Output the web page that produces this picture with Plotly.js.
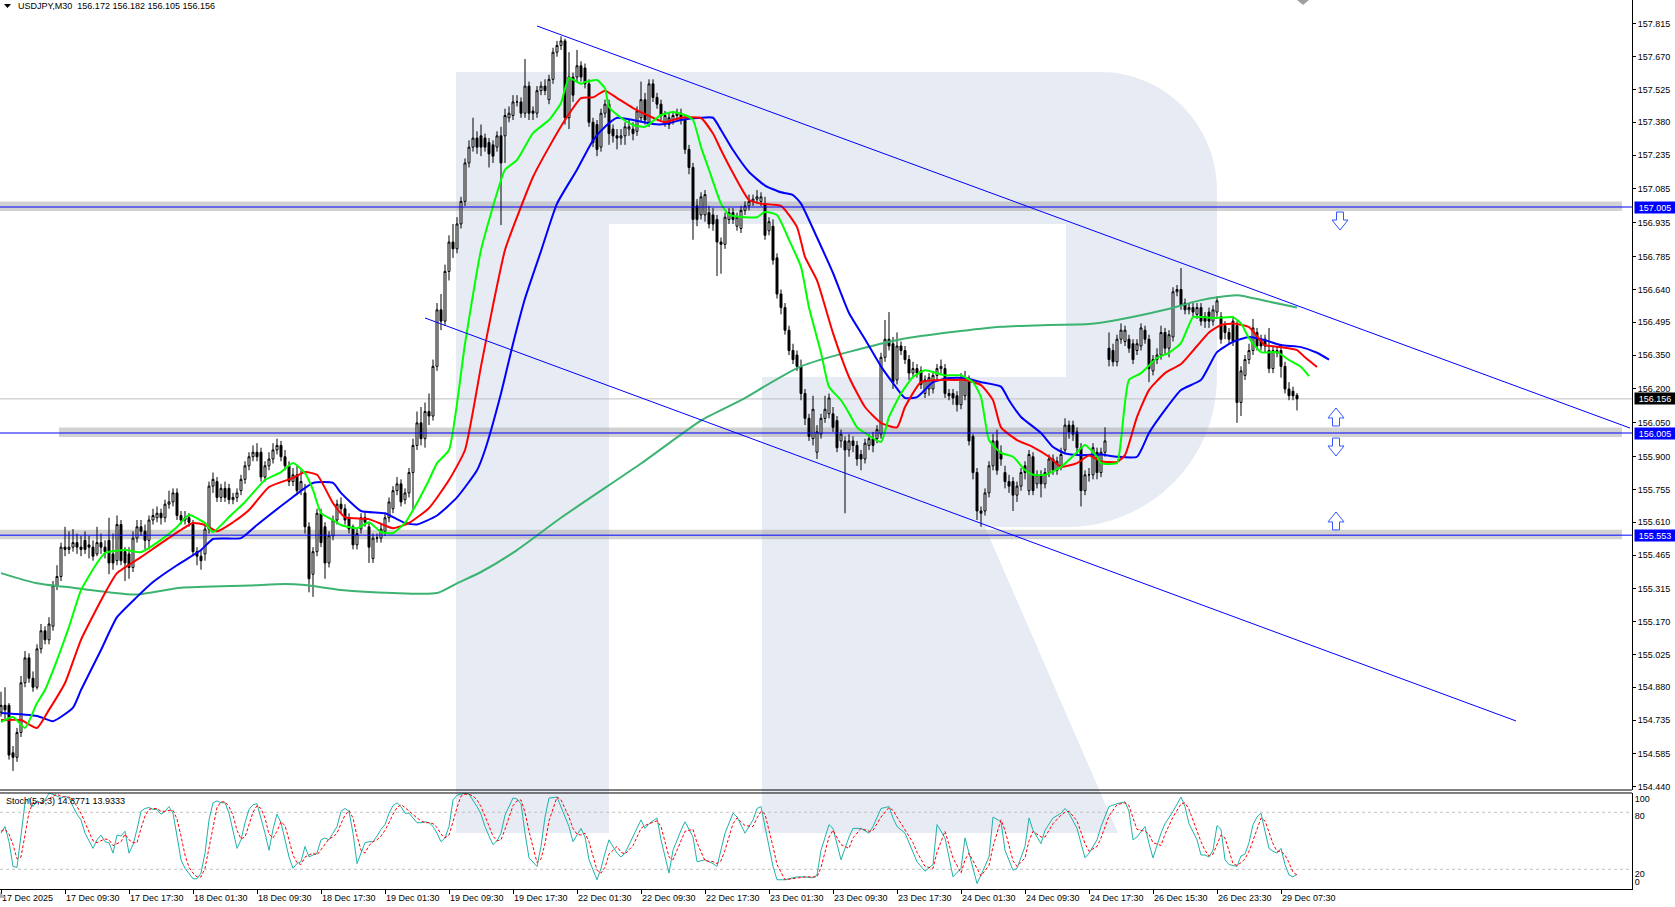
<!DOCTYPE html>
<html><head><meta charset="utf-8">
<script src="https://cdn.plot.ly/plotly-3.0.1.min.js"></script>
<style>html,body{margin:0;padding:0;background:#fff;}#chart{width:1675px;height:907px;}</style>
</head><body><div id="chart"></div>
<script>
const symbolName = "USDJPY,M30";

const candleOpen = [
154.77,154.80,154.80,154.59,154.57,154.68,154.90,155.01,154.92,154.88,
155.05,155.13,155.09,155.15,155.33,155.37,155.50,155.49,155.50,155.52,
155.50,155.53,155.51,155.50,155.47,155.52,155.50,155.53,155.47,155.44,
155.60,155.48,155.47,155.41,155.54,155.59,155.57,155.53,155.62,155.63,
155.65,155.63,155.69,155.70,155.74,155.64,155.62,155.63,155.60,155.48,
155.46,155.47,155.58,155.77,155.79,155.72,155.76,155.76,155.71,155.72,
155.75,155.80,155.86,155.90,155.92,155.92,155.81,155.86,155.89,155.93,
155.95,155.90,155.86,155.79,155.82,155.75,155.74,155.59,155.38,155.48,
155.65,155.59,155.43,155.55,155.62,155.69,155.67,155.63,155.59,155.51,
155.58,155.63,155.59,155.45,155.54,155.54,155.57,155.63,155.67,155.75,
155.78,155.71,155.74,155.83,155.95,156.05,155.98,156.10,156.08,156.30,
156.55,156.50,156.72,156.85,156.82,156.93,157.03,157.20,157.27,157.31,
157.32,157.31,157.29,157.28,157.27,157.32,157.32,157.40,157.41,157.47,
157.47,157.42,157.54,157.43,157.42,157.52,157.54,157.48,157.57,157.69,
157.72,157.74,157.40,157.58,157.58,157.63,157.62,157.55,157.38,157.37,
157.27,157.42,157.46,157.35,157.32,157.31,157.32,157.35,157.35,157.34,
157.40,157.48,157.38,157.55,157.49,157.46,157.38,157.37,157.39,157.41,
157.42,157.39,157.26,157.18,157.01,156.97,156.97,156.98,156.97,156.95,
156.85,156.84,156.95,156.98,156.92,156.91,156.99,157.01,157.03,157.04,
157.03,157.02,156.90,156.92,156.78,156.62,156.56,156.46,156.37,156.35,
156.30,156.18,156.07,155.98,155.92,156.00,156.07,156.09,156.09,156.06,
155.97,155.97,155.93,155.97,155.95,155.91,155.89,155.95,155.98,155.98,
156.00,156.34,156.42,156.40,156.24,156.39,156.37,156.33,156.27,156.29,
156.28,156.18,156.20,156.20,156.26,156.29,156.29,156.18,156.18,156.17,
156.13,156.17,156.24,155.99,155.83,155.66,155.66,155.74,155.86,155.97,
155.92,155.83,155.79,155.79,155.73,155.77,155.86,155.75,155.90,155.78,
155.82,155.78,155.83,155.89,155.84,155.86,155.93,156.04,156.04,156.01,
155.94,155.75,155.82,155.82,155.92,155.83,155.92,156.38,156.37,156.32,
156.42,156.41,156.42,156.40,156.37,156.39,156.46,156.42,156.28,156.33,
156.35,156.45,156.38,156.43,156.63,156.64,156.58,156.55,156.56,156.53,
156.56,156.52,156.54,156.50,156.54,156.52,156.48,156.45,156.50,156.48,
156.14,156.26,156.33,156.37,156.45,156.42,156.42,156.37,156.29,156.36,
156.37,156.30,156.20,156.19,156.172];

const candleHigh = [
154.86,154.88,154.81,154.62,154.70,154.93,155.04,155.03,154.95,155.07,
155.16,155.15,155.19,155.35,155.42,155.52,155.59,155.57,155.58,155.56,
155.55,155.57,155.55,155.53,155.59,155.56,155.53,155.63,155.56,155.64,
155.62,155.50,155.50,155.57,155.62,155.62,155.60,155.64,155.67,155.68,
155.67,155.71,155.75,155.76,155.76,155.66,155.66,155.65,155.62,155.50,
155.49,155.60,155.79,155.83,155.81,155.78,155.79,155.78,155.74,155.76,
155.82,155.88,155.92,155.95,155.96,155.94,155.88,155.92,155.96,155.98,
155.97,155.93,155.88,155.85,155.86,155.84,155.78,155.61,155.50,155.67,
155.67,155.61,155.57,155.64,155.71,155.72,155.69,155.65,155.60,155.58,
155.65,155.66,155.61,155.56,155.56,155.60,155.65,155.72,155.77,155.81,
155.80,155.76,155.85,155.98,156.10,156.12,156.14,156.18,156.33,156.58,
156.62,156.75,156.88,156.93,156.96,157.05,157.22,157.30,157.40,157.34,
157.37,157.33,157.31,157.30,157.34,157.36,157.44,157.45,157.50,157.50,
157.49,157.66,157.56,157.45,157.54,157.56,157.57,157.59,157.71,157.74,
157.76,157.75,157.69,157.60,157.70,157.65,157.64,157.57,157.40,157.39,
157.44,157.48,157.48,157.37,157.35,157.35,157.38,157.39,157.38,157.45,
157.56,157.51,157.57,157.57,157.51,157.48,157.43,157.42,157.43,157.44,
157.44,157.41,157.28,157.20,157.04,157.07,157.08,157.01,157.00,156.97,
156.87,156.98,157.00,157.00,156.98,157.01,157.03,157.06,157.06,157.08,
157.07,157.05,156.96,156.95,156.80,156.64,156.58,156.48,156.40,156.37,
156.33,156.20,156.09,156.17,156.04,156.09,156.17,156.18,156.12,156.08,
156.02,155.99,156.00,155.99,155.97,155.93,155.98,156.00,156.01,156.04,
156.36,156.505,156.54,156.43,156.45,156.41,156.39,156.35,156.32,156.31,
156.30,156.26,156.27,156.28,156.31,156.33,156.31,156.20,156.20,156.19,
156.27,156.28,156.26,156.00,155.85,155.68,155.76,155.88,156.00,156.02,
155.95,155.86,155.82,155.81,155.79,155.85,155.88,155.93,155.92,155.84,
155.84,155.85,155.91,155.91,155.90,155.94,156.07,156.06,156.06,156.03,
155.96,155.84,155.85,155.96,155.94,155.94,156.03,156.45,156.40,156.44,
156.49,156.48,156.44,156.42,156.42,156.49,156.48,156.44,156.35,156.38,
156.48,156.47,156.46,156.65,156.66,156.735,156.60,156.58,156.58,156.58,
156.58,156.54,156.56,156.57,156.61,156.54,156.50,156.47,156.52,156.50,
156.30,156.35,156.40,156.51,156.47,156.44,156.44,156.47,156.39,156.39,
156.39,156.32,156.23,156.21,156.182];

const candleLow = [
154.75,154.74,154.56,154.51,154.55,154.66,154.88,154.90,154.86,154.87,
155.03,155.07,155.07,155.13,155.31,155.35,155.46,155.47,155.48,155.47,
155.46,155.47,155.45,155.44,155.46,155.47,155.45,155.38,155.40,155.42,
155.42,155.35,155.36,155.39,155.52,155.55,155.49,155.49,155.60,155.61,
155.60,155.61,155.67,155.68,155.62,155.60,155.60,155.59,155.46,155.42,
155.40,155.44,155.56,155.74,155.70,155.70,155.70,155.69,155.69,155.70,
155.73,155.78,155.84,155.88,155.88,155.79,155.79,155.84,155.87,155.91,
155.88,155.84,155.77,155.77,155.73,155.73,155.56,155.30,155.28,155.46,
155.50,155.36,155.41,155.53,155.60,155.65,155.60,155.56,155.49,155.49,
155.56,155.59,155.43,155.43,155.52,155.52,155.55,155.61,155.65,155.73,
155.68,155.69,155.72,155.66,155.93,155.95,155.94,156.04,156.06,156.28,
156.46,156.48,156.68,156.78,156.80,156.91,157.01,157.18,157.25,157.24,
157.23,157.25,157.18,157.20,157.25,156.925,157.20,157.38,157.39,157.45,
157.40,157.40,157.39,157.39,157.40,157.50,157.50,157.46,157.55,157.67,
157.70,157.37,157.35,157.47,157.56,157.56,157.53,157.36,157.27,157.23,
157.25,157.40,157.28,157.29,157.26,157.28,157.28,157.32,157.30,157.32,
157.38,157.37,157.36,157.47,157.44,157.39,157.36,157.35,157.37,157.39,
157.37,157.24,157.15,156.86,156.92,156.95,156.94,156.91,156.90,156.70,
156.71,156.82,156.93,156.93,156.90,156.89,156.97,156.99,157.01,157.02,
157.01,156.86,156.88,156.75,156.60,156.53,156.44,156.35,156.31,156.28,
156.15,156.04,155.97,155.95,155.89,155.98,156.05,156.07,156.01,155.92,
155.94,155.65,155.90,155.92,155.86,155.84,155.87,155.93,155.92,155.96,
155.98,156.32,156.37,156.20,156.22,156.35,156.31,156.24,156.25,156.25,
156.20,156.16,156.17,156.18,156.24,156.27,156.16,156.15,156.13,156.10,
156.11,156.15,155.95,155.80,155.62,155.59,155.64,155.72,155.84,155.82,
155.86,155.76,155.74,155.66,155.70,155.75,155.80,155.73,155.73,155.76,
155.72,155.76,155.81,155.82,155.82,155.84,155.91,155.98,155.97,155.91,
155.68,155.73,155.79,155.80,155.80,155.81,155.90,156.30,156.30,156.30,
156.40,156.39,156.36,156.31,156.35,156.37,156.40,156.23,156.26,156.31,
156.33,156.35,156.34,156.41,156.61,156.55,156.53,156.53,156.52,156.51,
156.48,156.47,156.47,156.48,156.52,156.40,156.42,156.40,156.39,156.05,
156.08,156.24,156.31,156.35,156.37,156.37,156.36,156.27,156.27,156.34,
156.25,156.18,156.15,156.15,156.105];

const candleClose = [
154.80,154.78,154.58,154.57,154.68,154.90,155.01,154.92,154.88,155.05,
155.13,155.09,155.16,155.33,155.37,155.50,155.49,155.50,155.52,155.50,
155.49,155.49,155.50,155.46,155.52,155.50,155.48,155.43,155.43,155.60,
155.44,155.43,155.41,155.54,155.59,155.57,155.53,155.62,155.64,155.65,
155.63,155.69,155.70,155.74,155.64,155.62,155.63,155.61,155.48,155.46,
155.44,155.58,155.77,155.80,155.72,155.76,155.72,155.71,155.72,155.74,
155.80,155.86,155.90,155.92,155.90,155.81,155.86,155.89,155.93,155.95,
155.90,155.86,155.79,155.82,155.75,155.79,155.59,155.36,155.48,155.65,
155.52,155.43,155.55,155.62,155.69,155.67,155.62,155.58,155.51,155.56,
155.63,155.61,155.50,155.54,155.54,155.58,155.63,155.70,155.75,155.78,
155.70,155.74,155.83,155.95,156.05,155.98,156.10,156.08,156.30,156.55,
156.50,156.72,156.85,156.82,156.93,157.03,157.20,157.27,157.31,157.27,
157.27,157.27,157.24,157.23,157.32,157.20,157.41,157.42,157.47,157.47,
157.42,157.54,157.42,157.42,157.52,157.54,157.52,157.57,157.69,157.72,
157.74,157.40,157.58,157.50,157.63,157.58,157.55,157.38,157.29,157.26,
157.42,157.46,157.33,157.32,157.31,157.32,157.36,157.36,157.33,157.43,
157.48,157.39,157.55,157.49,157.46,157.41,157.41,157.40,157.41,157.42,
157.39,157.26,157.18,156.95,156.95,157.05,157.06,156.93,156.93,156.85,
156.84,156.96,156.98,156.95,156.96,156.99,157.01,157.03,157.04,157.05,
157.05,156.88,156.94,156.77,156.62,156.56,156.46,156.37,156.33,156.30,
156.18,156.07,155.99,156.11,156.01,156.07,156.11,156.16,156.03,155.94,
156.00,155.93,155.97,155.95,155.89,155.89,155.96,155.98,155.95,156.02,
156.34,156.42,156.39,156.23,156.39,156.37,156.33,156.27,156.29,156.27,
156.22,156.24,156.25,156.26,156.29,156.30,156.18,156.17,156.16,156.13,
156.25,156.25,155.97,155.83,155.66,155.65,155.74,155.86,155.97,155.84,
155.89,155.79,155.77,155.73,155.77,155.83,155.83,155.91,155.75,155.82,
155.78,155.83,155.89,155.84,155.88,155.91,156.04,156.01,156.00,155.94,
155.75,155.82,155.82,155.94,155.83,155.92,155.97,156.33,156.32,156.42,
156.46,156.46,156.38,156.33,156.40,156.47,156.42,156.29,156.33,156.35,
156.45,156.38,156.44,156.63,156.64,156.57,156.55,156.56,156.54,156.56,
156.50,156.50,156.50,156.55,156.59,156.42,156.45,156.42,156.41,156.14,
156.28,156.33,156.37,156.47,156.39,156.39,156.39,156.29,156.37,156.37,
156.30,156.20,156.17,156.17,156.156];

// Alligator (jaw blue, teeth red, lips green) and long moving average, read at bar indices
const jawIdx = [0,9,13,18,20,25,29,34,38,44,50,53,60,64,71,78,83,85,90,96,101,104,109,114,119,121,125,128,131,135,139,144,148,151,154,158,163,166,170,175,178,180,183,187,191,195,198,200,204,208,212,216,220,223,226,229,233,237,241,245,250,252,255,260,263,266,270,275,279,284,287,291,295,300,304,308,312,316,320,325,329,332];
const jawVal = [154.766,154.753,154.73,154.79,154.868,155.045,155.19,155.28,155.346,155.42,155.487,155.536,155.54,155.598,155.695,155.784,155.784,155.74,155.66,155.65,155.607,155.60,155.64,155.72,155.84,155.93,156.18,156.40,156.60,156.81,157.02,157.17,157.30,157.36,157.40,157.39,157.372,157.372,157.39,157.40,157.40,157.346,157.257,157.16,157.10,157.07,157.058,157.02,156.87,156.713,156.536,156.42,156.30,156.226,156.16,156.164,156.23,156.248,156.248,156.23,156.21,156.15,156.076,156.005,155.943,155.915,155.907,155.91,155.90,155.90,156.005,156.107,156.195,156.24,156.363,156.408,156.43,156.416,156.394,156.385,156.36,156.33];

const teethIdx = [0,5,9,12,16,20,26,29,35,43,48,51,54,58,62,67,73,76,79,83,86,92,98,102,107,112,116,120,123,126,129,133,137,141,145,148,151,154,158,163,166,170,175,178,180,183,187,190,195,199,201,204,208,212,216,220,224,226,230,235,239,241,245,248,250,254,258,262,265,269,272,275,279,281,284,287,291,295,299,302,305,308,312,316,320,324,326,329];
const teethVal = [154.735,154.735,154.70,154.78,154.899,155.09,155.297,155.385,155.456,155.553,155.607,155.598,155.57,155.61,155.664,155.766,155.806,155.832,155.82,155.695,155.633,155.624,155.584,155.607,155.673,155.797,155.93,156.30,156.57,156.815,156.96,157.138,157.27,157.39,157.487,157.49,157.52,157.487,157.443,157.40,157.38,157.40,157.398,157.33,157.257,157.155,157.036,157.02,157.01,156.916,156.784,156.68,156.447,156.253,156.12,156.05,156.03,156.12,156.23,156.24,156.24,156.24,156.217,156.15,156.03,155.974,155.943,155.90,155.855,155.872,155.905,155.88,155.877,155.907,156.076,156.195,156.27,156.31,156.39,156.45,156.483,156.49,156.474,156.394,156.385,156.372,156.34,156.297];

const lipsIdx = [0,3,6,9,11,14,17,20,24,26,31,35,40,44,47,51,53,57,61,66,70,73,76,78,80,83,85,89,92,95,98,101,104,107,109,112,116,120,124,126,129,133,137,140,142,145,146,149,151,152,155,158,161,165,168,171,173,175,177,180,182,186,189,191,194,197,200,202,205,207,210,212,214,216,220,222,225,228,231,236,240,243,245,247,250,253,256,258,261,265,269,271,274,275,279,280,282,285,289,292,295,298,300,304,308,310,312,315,319,322,325,327];
const lipsVal = [154.726,154.748,154.70,154.81,154.868,155.0,155.147,155.31,155.43,155.474,155.487,155.478,155.532,155.589,155.642,155.607,155.567,155.633,155.70,155.797,155.832,155.872,155.828,155.753,155.651,155.62,155.598,155.584,155.61,155.567,155.562,155.607,155.695,155.797,155.872,155.93,156.40,156.815,157.067,157.17,157.213,157.332,157.39,157.465,157.576,157.55,157.558,157.567,157.53,157.447,157.40,157.368,157.36,157.412,157.425,157.412,157.39,157.27,157.17,157.02,156.97,156.96,156.96,156.983,156.97,156.86,156.74,156.56,156.36,156.21,156.15,156.093,156.03,156.005,155.965,156.076,156.18,156.253,156.283,156.26,156.26,156.23,156.164,155.974,155.917,155.90,155.841,155.82,155.82,155.855,155.92,155.952,155.90,155.872,155.872,155.974,156.24,156.27,156.337,156.36,156.403,156.518,156.518,156.514,156.518,156.49,156.425,156.363,156.363,156.328,156.297,156.257];

const maIdx = [0,9,18,27,34,45,62,71,76,85,98,109,114,120,129,140,160,175,185,200,225,250,262,272,279,291,300,309,316,324];
const maVal = [155.385,155.34,155.32,155.30,155.29,155.32,155.33,155.337,155.332,155.31,155.297,155.297,155.34,155.39,155.487,155.63,155.87,156.06,156.15,156.30,156.42,156.475,156.483,156.487,156.505,156.55,156.593,156.615,156.59,156.56];

// Stochastic (5,3,3): main (%K) and signal (%D), read at bar indices
const stochIdx = [
0,1,2,3,4,5,6,7,8,9,10,11,12,13,14,15,16,17,18,19,20,21,22,23,24,25,26,27,28,29,
30,31,32,33,34,35,36,37,38,39,40,41,42,43,44,45,46,47,48,49,50,51,52,53,54,55,56,57,58,59,
60,61,62,63,64,65,66,67,68,69,70,71,72,73,74,75,76,77,78,79,80,81,82,83,84,85,86,87,88,89,
90,91,92,93,94,95,96,97,98,99,100,101,102,103,104,105,106,107,108,109,110,111,112,113,114,115,116,117,118,119,
120,121,122,123,124,
125,126,128,129,130,131,132,134,135,136,137,139,140,142,143,144,145,146,147,149,150,
151,152,154,155,156,158,160,161,162,164,165,167,168,170,171,173,174,176,178,179,180,181,183,184,186,188,189,190,191,193,194,196,198,199,201,203,204,205,207,208,210,212,213,215,217,218,220,222,223,224,226,228,229,231,233,234,236,238,240,241,242,244,245,247,248,250,251,253,254,256,257,258,260,261,263,265,266,267,269,271,272,274,275,277,279,281,282,283,284,286,287,288,290,291,293,295,296,297,299,300,
301,302,303,304,305,306,307,308,309,310,311,312,313,314,315,316,317,318,319,320,321,322,323,324];
const stochMain = [
58,65,49,23,22,55,90,95,86,92,90,93,100,99,97,95,97,95,86,78,72,58,50,42,51,56,49,48,37,56,
55,60,37,46,62,81,84,85,83,83,78,81,86,79,55,30,21,16,10,10,16,37,72,90,92,90,90,79,62,42,
51,69,83,88,89,74,58,40,62,78,69,51,33,21,26,28,44,33,35,37,51,53,51,58,65,81,84,81,58,26,
37,48,49,49,55,62,67,79,87,90,86,79,79,74,69,69,70,69,65,58,49,53,65,93,98,99,100,99,93,86,
78,65,55,46,50,
58,77,95,94,89,58,32,23,44,75,95,96,86,65,49,56,63,54,30,9,21,
37,51,37,33,37,54,72,63,68,74,51,16,40,61,70,54,28,30,26,23,39,58,79,75,58,72,84,86,65,23,9,9,11,12,12,11,14,40,67,63,30,54,63,63,58,65,84,86,74,65,58,39,28,18,25,67,53,12,21,53,37,5,14,33,75,70,40,19,21,44,74,61,47,61,74,79,84,79,63,32,37,51,65,86,89,91,81,51,54,65,47,32,58,68,81,96,86,68,51,35,
35,33,40,66,62,30,25,24,23,34,36,48,67,75,79,60,42,39,37,42,25,14,12,14.8771];
const stochSignal = [
60,62,57,46,31,33,56,80,90,91,89,92,94,97,99,97,96,96,93,86,79,69,60,50,48,50,52,51,45,47,
49,57,51,48,48,63,76,83,84,84,81,81,82,82,73,55,35,22,16,12,12,21,42,66,85,91,91,86,77,61,
52,54,68,80,87,84,74,57,53,60,70,66,51,35,27,25,33,35,37,35,41,47,52,54,58,68,77,82,74,55,
40,37,45,49,51,55,61,69,78,85,88,85,81,77,74,71,69,69,68,64,57,53,56,70,85,97,99,99,97,93,
86,76,66,55,50,
51,62,87,92,93,80,60,27,31,47,71,96,93,75,63,57,56,58,49,19,16,
22,36,44,38,36,45,63,66,68,71,65,33,30,50,60,62,48,29,28,26,29,40,68,74,66,65,74,81,78,44,25,9,10,11,12,12,12,22,54,61,46,42,53,63,60,61,75,85,82,75,62,48,38,23,21,38,60,32,16,30,37,21,13,24,44,72,61,29,23,32,50,60,54,54,68,77,80,81,71,47,39,44,53,76,88,90,87,74,62,60,57,48,45,57,75,89,90,83,60,49,
40,34,36,46,56,53,39,26,24,27,31,39,50,63,74,71,60,47,39,39,35,27,17,13.9333];
const stochLevels = [80, 20];

// Horizontal levels, channel lines and arrow marks
const levelPrices = [157.005, 156.005, 155.553];
const channelUpperIdx = [134, 407.25];
const channelUpperPrice = [157.806, 156.027];
const channelLowerIdx = [106, 378.75];
const channelLowerPrice = [156.514, 154.731];
const arrowIdx = [334.75, 333.75, 333.75, 333.75];
const arrowPrice = [156.943, 156.076, 155.943, 155.616];
const arrowDir = ['down', 'up', 'down', 'up'];

const priceTicks = [157.815,157.670,157.525,157.380,157.235,157.085,156.935,156.785,156.640,156.495,156.350,156.200,156.050,155.900,155.755,155.610,155.465,155.315,155.170,155.025,154.880,154.735,154.585,154.440];
const timeLabels = ['17 Dec 2025','17 Dec 09:30','17 Dec 17:30','18 Dec 01:30','18 Dec 09:30','18 Dec 17:30','19 Dec 01:30','19 Dec 09:30','19 Dec 17:30','22 Dec 01:30','22 Dec 09:30','22 Dec 17:30','23 Dec 01:30','23 Dec 09:30','23 Dec 17:30','24 Dec 01:30','24 Dec 09:30','24 Dec 17:30','26 Dec 15:30','26 Dec 23:30','29 Dec 07:30'];
const barsPerLabel = 16;

// ---------- drawing ----------
const FONT = 'Liberation Sans, Arial, sans-serif';
const PW = 1632, PH = 889;
function px(x){ return (x / PW).toFixed(5); }
function py(y){ return (1 - y / PH).toFixed(5); }

const n = candleClose.length;
const barIndex = candleClose.map((_, i) => i);
const labelBars = timeLabels.map((_, i) => i * barsPerLabel);

const traces = [
  {type:'candlestick', x:barIndex, open:candleOpen, high:candleHigh, low:candleLow, close:candleClose,
   xaxis:'x', yaxis:'y', hoverinfo:'skip',
   increasing:{line:{color:'#000000', width:1}, fillcolor:'#ffffff'},
   decreasing:{line:{color:'#000000', width:1}, fillcolor:'#000000'}},
  {type:'scatter', mode:'lines', x:maIdx, y:maVal, line:{color:'#3cb371', width:2, shape:'spline', smoothing:0.6}, hoverinfo:'skip'},
  {type:'scatter', mode:'lines', x:jawIdx, y:jawVal, line:{color:'#0000ff', width:2, shape:'spline', smoothing:0.5}, hoverinfo:'skip'},
  {type:'scatter', mode:'lines', x:teethIdx, y:teethVal, line:{color:'#ff0000', width:2, shape:'spline', smoothing:0.5}, hoverinfo:'skip'},
  {type:'scatter', mode:'lines', x:lipsIdx, y:lipsVal, line:{color:'#00ff00', width:2, shape:'spline', smoothing:0.5}, hoverinfo:'skip'},
  {type:'scatter', mode:'lines', x:stochIdx, y:stochMain, xaxis:'x', yaxis:'y2', line:{color:'#20b2aa', width:1}, hoverinfo:'skip'},
  {type:'scatter', mode:'lines', x:stochIdx, y:stochSignal, xaxis:'x', yaxis:'y2', line:{color:'#ff0000', width:1, dash:'3px,2px'}, hoverinfo:'skip'}
];

const shapes = [];
// watermark logo (background)
const wm = 'M'+px(456)+','+py(72)+' L'+px(1100)+','+py(72)+
  ' C'+px(1165)+','+py(72)+' '+px(1217)+','+py(125)+' '+px(1217)+','+py(190)+
  ' L'+px(1217)+','+py(377)+
  ' C'+px(1217)+','+py(460)+' '+px(1150)+','+py(527)+' '+px(1067)+','+py(527)+
  ' L'+px(985)+','+py(527)+' L'+px(1118)+','+py(833)+' L'+px(456)+','+py(833)+' Z';
shapes.push({type:'path', xref:'paper', yref:'paper', path:wm, fillcolor:'#e6ebf4', line:{width:0}, layer:'below'});
const wmCut = 'M'+px(609)+','+py(224)+' L'+px(1066)+','+py(224)+' L'+px(1066)+','+py(377)+
  ' L'+px(762)+','+py(377)+' L'+px(762)+','+py(833)+' L'+px(609)+','+py(833)+' Z';
shapes.push({type:'path', xref:'paper', yref:'paper', path:wmCut, fillcolor:'#ffffff', line:{width:0}, layer:'below'});

// gray bands behind levels
levelPrices.forEach((p, k) => {
  shapes.push({type:'rect', xref:'x', yref:'y', x0:(k === 1 ? 14.5 : -0.25), x1:405.25,
    ysizemode:'pixel', yanchor:p, y0:-4, y1:5.5,
    fillcolor:'rgba(165,165,165,0.5)', line:{width:0}, layer:'below'});
});
// current price line
shapes.push({type:'line', xref:'x', yref:'y', x0:-0.25, x1:407.75, y0:candleClose[n-1], y1:candleClose[n-1],
  line:{color:'#c0c0c0', width:1}, layer:'below'});
// levels
levelPrices.forEach(p => {
  shapes.push({type:'line', xref:'x', yref:'y', x0:-0.25, x1:407.75, y0:p, y1:p, line:{color:'#0000ff', width:1}});
});
// channel
shapes.push({type:'line', xref:'x', yref:'y', x0:channelUpperIdx[0], x1:channelUpperIdx[1], y0:channelUpperPrice[0], y1:channelUpperPrice[1], line:{color:'#0000ff', width:1}});
shapes.push({type:'line', xref:'x', yref:'y', x0:channelLowerIdx[0], x1:channelLowerIdx[1], y0:channelLowerPrice[0], y1:channelLowerPrice[1], line:{color:'#0000ff', width:1}});
// stochastic levels
stochLevels.forEach(v => {
  shapes.push({type:'line', xref:'x', yref:'y2', x0:-0.25, x1:407.75, y0:v, y1:v, line:{color:'#c0c0c0', width:1, dash:'3px,3px'}, layer:'below'});
});
// arrows
const downPath = 'M-3.5,9 L3.5,9 L3.5,1 L8,1 L0,-9 L-8,1 L-3.5,1 Z';
const upPath = 'M-3.5,-9 L3.5,-9 L3.5,-1 L8,-1 L0,9 L-8,-1 L-3.5,-1 Z';
arrowIdx.forEach((xi, k) => {
  shapes.push({type:'path', xref:'x', yref:'y', xsizemode:'pixel', ysizemode:'pixel',
    xanchor:xi, yanchor:arrowPrice[k], path:(arrowDir[k] === 'down' ? downPath : upPath),
    fillcolor:'#ffffff', line:{color:'#2f55ff', width:1}});
});
// panel borders
shapes.push({type:'line', xref:'paper', yref:'paper', x0:0, x1:1, y0:py(790), y1:py(790), line:{color:'#000', width:1}});
shapes.push({type:'line', xref:'paper', yref:'paper', x0:0, x1:1, y0:py(793), y1:py(793), line:{color:'#000', width:1}});
// header triangle, chart shift markers
shapes.push({type:'path', xref:'paper', yref:'paper', path:'M'+px(4)+','+py(4)+' L'+px(11)+','+py(4)+' L'+px(7.5)+','+py(8)+' Z', fillcolor:'#000', line:{width:0}});
shapes.push({type:'path', xref:'paper', yref:'paper', path:'M'+px(1297)+','+py(0)+' L'+px(1309)+','+py(0)+' L'+px(1303)+','+py(5)+' Z', fillcolor:'#a0a0a0', line:{width:0}});
shapes.push({type:'path', xref:'paper', yref:'paper', path:'M'+px(0)+','+py(892)+' L'+px(0)+','+py(898)+' L'+px(6)+','+py(898)+' Z', fillcolor:'#b0b0b0', line:{width:0}});

const annotations = [];
annotations.push({xref:'paper', yref:'paper', x:px(16), y:py(6), xanchor:'left', yanchor:'middle', showarrow:false,
  text: symbolName + '\u00a0\u00a0' + [candleOpen[n-1], candleHigh[n-1], candleLow[n-1], candleClose[n-1]].map(v => v.toFixed(3)).join(' '),
  font:{family:FONT, size:9, color:'#000'}});
annotations.push({xref:'paper', yref:'paper', x:px(4), y:py(801), xanchor:'left', yanchor:'middle', showarrow:false,
  text:'Stoch(5,3,3) ' + stochMain[stochMain.length-1].toFixed(4) + ' ' + stochSignal[stochSignal.length-1].toFixed(4),
  font:{family:FONT, size:9, color:'#000'}});
levelPrices.forEach(p => {
  annotations.push({xref:'paper', yref:'y', x:1, y:p, xanchor:'left', yanchor:'middle', xshift:2, showarrow:false,
    text:p.toFixed(3), bgcolor:'#0000ff', borderpad:1, width:38, height:9, align:'center',
    font:{family:FONT, size:9, color:'#ffffff'}});
});
annotations.push({xref:'paper', yref:'y', x:1, y:candleClose[n-1], xanchor:'left', yanchor:'middle', xshift:2, showarrow:false,
  text:candleClose[n-1].toFixed(3), bgcolor:'#000000', borderpad:1, width:38, height:9, align:'center',
  font:{family:FONT, size:9, color:'#ffffff'}});

const layout = {
  width:1675, height:907,
  margin:{l:0, r:43, t:0, b:18, pad:0},
  paper_bgcolor:'#ffffff', plot_bgcolor:'#ffffff',
  showlegend:false,
  xaxis:{domain:[0,1], anchor:'y2', range:[-0.25, 407.75], tickmode:'array', tickvals:labelBars, ticktext:timeLabels,
    ticks:'outside', ticklen:4, tickcolor:'#000', ticklabelposition:'outside right',
    tickfont:{family:FONT, size:9, color:'#000'}, showgrid:false, zeroline:false,
    showline:true, linecolor:'#000', linewidth:1, rangeslider:{visible:false}, fixedrange:true},
  yaxis:{domain:[0.11136, 1], anchor:'x', side:'right', range:[154.4254, 157.921],
    tickmode:'array', tickvals:priceTicks, ticktext:priceTicks.map(v => v.toFixed(3)),
    ticks:'outside', ticklen:3, tickcolor:'#000', tickfont:{family:FONT, size:9, color:'#000'},
    showgrid:false, zeroline:false, showline:true, linecolor:'#000', linewidth:1, fixedrange:true},
  yaxis2:{domain:[0, 0.108], anchor:'x', side:'right', range:[-0.74, 100.3],
    tickmode:'array', tickvals:[94, 76.1, 15.4, 6.3], ticktext:['100','80','20','0'], ticks:'',
    tickfont:{family:FONT, size:9, color:'#000'},
    showgrid:false, zeroline:false, showline:true, linecolor:'#000', linewidth:1, fixedrange:true},
  shapes:shapes,
  annotations:annotations
};

Plotly.newPlot('chart', traces, layout, {displayModeBar:false, staticPlot:true});
</script>
</body></html>
